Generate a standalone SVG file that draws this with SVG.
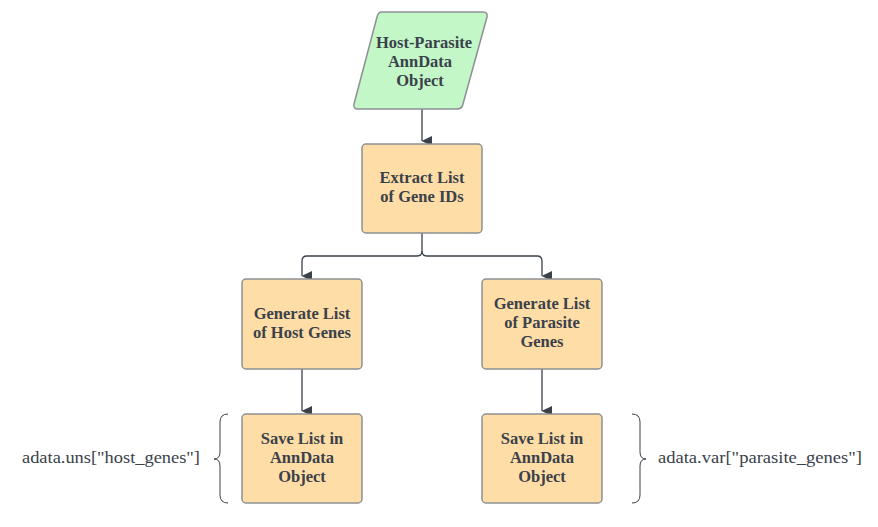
<svg xmlns="http://www.w3.org/2000/svg" width="878" height="527" viewBox="0 0 878 527">
<defs>
<marker id="ah" markerWidth="11" markerHeight="11" refX="5.5" refY="10" orient="auto" markerUnits="userSpaceOnUse" viewBox="0 0 11 11">
<path d="M0.5,0 L10.5,0 L5.5,10.5 Z" fill="#3a414a"/>
</marker>
</defs>
<style>
.box{fill:#ffdda6;stroke:#8d9094;stroke-width:1.5}
.io{fill:#c3f7c8;stroke:#8d9094;stroke-width:1.5}
.lbl{font-family:"Liberation Serif",serif;font-weight:bold;font-size:16.5px;fill:#3a414a;text-anchor:middle}
.side{font-family:"Liberation Serif",serif;font-size:17px;fill:#3a414a}
.con{fill:none;stroke:#3a414a;stroke-width:1.3}
.br{fill:none;stroke:#3a414a;stroke-width:1}
</style>
<rect width="878" height="527" fill="#ffffff"/>
<g id="connectors">
<path class="con" d="M422,109 V141" marker-end="url(#ah)"/>
<path class="con" d="M422,233 V251 Q422,256 417,256 H307 Q302,256 302,261 V276" marker-end="url(#ah)"/>
<path class="con" d="M422,251 Q422,256 427,256 H537 Q542,256 542,261 V276" marker-end="url(#ah)"/>
<path class="con" d="M302,369 V411" marker-end="url(#ah)"/>
<path class="con" d="M542,369 V411" marker-end="url(#ah)"/>
</g>
<g id="n1">
<path class="io" d="M382,12 H483 Q488,12 487,17 L463,104 Q462,109 457,109 H358 Q353,109 354,104 L377,17 Q378,12 382,12 Z"/>
<text class="lbl" x="424" y="48">Host-Parasite</text>
<text class="lbl" x="420" y="67">AnnData</text>
<text class="lbl" x="420" y="86">Object</text>
</g>
<g id="n2">
<rect class="box" x="362" y="144" width="120" height="89" rx="4"/>
<text class="lbl" x="422" y="183">Extract List</text>
<text class="lbl" x="422" y="202">of Gene IDs</text>
</g>
<g id="n3">
<rect class="box" x="242" y="279" width="120" height="90" rx="4"/>
<text class="lbl" x="302" y="319">Generate List</text>
<text class="lbl" x="302" y="338">of Host Genes</text>
</g>
<g id="n4">
<rect class="box" x="482" y="279" width="120" height="90" rx="4"/>
<text class="lbl" x="542" y="309">Generate List</text>
<text class="lbl" x="542" y="328">of Parasite</text>
<text class="lbl" x="542" y="347">Genes</text>
</g>
<g id="n5">
<rect class="box" x="242" y="414" width="120" height="89" rx="4"/>
<text class="lbl" x="302" y="444">Save List in</text>
<text class="lbl" x="302" y="463">AnnData</text>
<text class="lbl" x="302" y="482">Object</text>
</g>
<g id="n6">
<rect class="box" x="482" y="414" width="120" height="89" rx="4"/>
<text class="lbl" x="542" y="444">Save List in</text>
<text class="lbl" x="542" y="463">AnnData</text>
<text class="lbl" x="542" y="482">Object</text>
</g>
<g id="note-left">
<path class="br" d="M228,414 Q220,414 220,422 V452 Q220,459 214,459 Q220,459 220,466 V495 Q220,503 228,503"/>
<text class="side" x="22" y="463" textLength="178" lengthAdjust="spacingAndGlyphs">adata.uns["host_genes"]</text>
</g>
<g id="note-right">
<path class="br" d="M632,414 Q640,414 640,422 V452 Q640,459 646,459 Q640,459 640,466 V495 Q640,503 632,503"/>
<text class="side" x="658" y="463" textLength="204" lengthAdjust="spacingAndGlyphs">adata.var["parasite_genes"]</text>
</g>
</svg>
